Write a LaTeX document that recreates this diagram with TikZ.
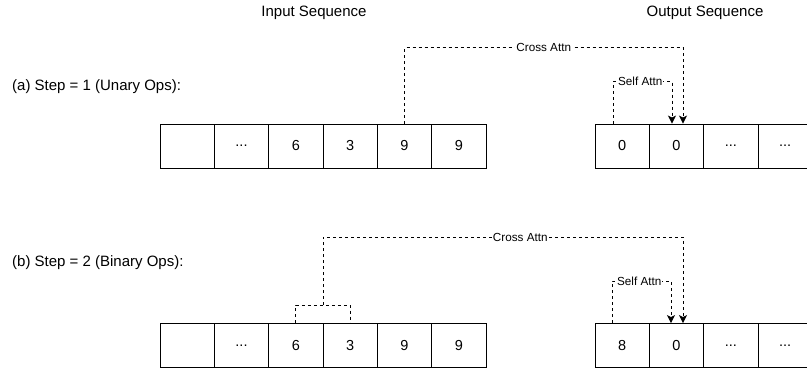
\documentclass[tikz,border=0pt]{standalone}
\usepackage{fontspec}
\setmainfont{Liberation Sans}
\usetikzlibrary{arrows.meta,calc}
\begin{document}
\begin{tikzpicture}[x=1pt,y=-1pt,
  cell/.style={draw=black,line width=0.9pt,minimum width=54.33pt,minimum height=44pt,inner sep=0pt,font=\fontsize{14.5}{16}\selectfont},
  title/.style={font=\fontsize{15}{17}\selectfont,inner sep=0pt},
  dsh/.style={draw=black,line width=0.9pt,dash pattern=on 3pt off 3pt},
  attn/.style={dsh,-{Stealth[length=8pt,width=8pt,inset=2pt]}},
  lbl/.style={fill=white,inner sep=1pt,font=\fontsize{11.7}{13}\selectfont}]
\useasboundingbox (0,0) rectangle (807,373);
\clip (0,0) rectangle (807,373);
% titles
\node[title] (tin) at (314,13) {Input Sequence};
\node[title] (tout) at (705,13) {Output Sequence};
\node[title,anchor=west] (la) at (12,87) {(a) Step = 1 (Unary Ops):};
\node[title,anchor=west] (lb) at (12,263) {(b) Step = 2 (Binary Ops):};
% row a
\node[cell] (a1) at (187.17,146) {};
\node[cell] (a2) at (241.5,146) {...};
\node[cell] (a3) at (295.83,146) {6};
\node[cell] (a4) at (350.17,146) {3};
\node[cell] (a5) at (404.5,146) {9};
\node[cell] (a6) at (458.83,146) {9};
\node[cell] (ao1) at (622.17,146) {0};
\node[cell] (ao2) at (676.5,146) {0};
\node[cell] (ao3) at (730.83,146) {...};
\node[cell] (ao4) at (785.17,146) {...};
% row b
\node[cell] (b1) at (187.17,345.5) {};
\node[cell] (b2) at (241.5,345.5) {...};
\node[cell] (b3) at (295.83,345.5) {6};
\node[cell] (b4) at (350.17,345.5) {3};
\node[cell] (b5) at (404.5,345.5) {9};
\node[cell] (b6) at (458.83,345.5) {9};
\node[cell] (bo1) at (622.17,345.5) {8};
\node[cell] (bo2) at (676.5,345.5) {0};
\node[cell] (bo3) at (730.83,345.5) {...};
\node[cell] (bo4) at (785.17,345.5) {...};
% row a connectors
\draw[attn] (a5.north) -- ++(0,-76) -| node[lbl,pos=0.25]{Cross Attn} ([xshift=6.5pt]ao2.north);
\draw[attn] ([xshift=-9pt]ao1.north) -- ++(0,-42) -| node[lbl,pos=0.23]{Self Attn} ([xshift=-4.5pt]ao2.north);
% row b connectors
\draw[dsh] (b3.north) -- ++(0,-18) -| (b4.north);
\coordinate (bm) at ($(b3.north)!0.5!(b4.north)+(0,-18)$);
\draw[attn] (bm) -- ++(0,-68) -| node[lbl,pos=0.274]{Cross Attn} ([xshift=6.5pt]bo2.north);
\draw[attn] ([xshift=-10pt]bo1.north) -- ++(0,-42) -| node[lbl,pos=0.23]{Self Attn} ([xshift=-5.5pt]bo2.north);
\end{tikzpicture}
\end{document}
